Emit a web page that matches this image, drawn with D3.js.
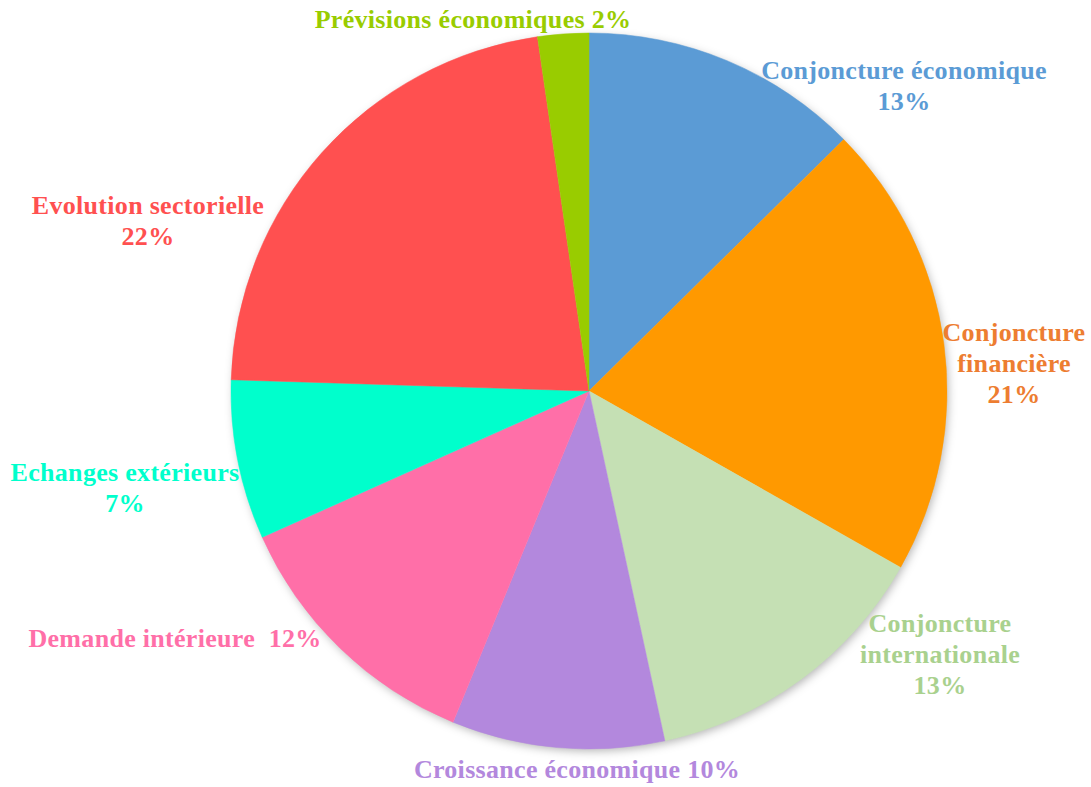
<!DOCTYPE html>
<html>
<head>
<meta charset="utf-8">
<script src="https://cdn.jsdelivr.net/npm/d3@7"></script>
<style>
  body { margin: 0; background: #fff; }
</style>
</head>
<body>
<svg id="chart" width="1091" height="787"></svg>
<script>
// slice data, clockwise from 12 o'clock
const categories = ["Conjoncture économique", "Conjoncture financière", "Conjoncture internationale",
  "Croissance économique", "Demande intérieure", "Echanges extérieurs", "Evolution sectorielle", "Prévisions économiques"];
const values = [12.6, 20.6, 13.4, 9.6, 12.1, 7.2, 22.2, 2.3];
// how each label is broken into lines (percent is appended)
const labelLines = [
  ["Conjoncture économique", "{p}"],
  ["Conjoncture", "financière", "{p}"],
  ["Conjoncture", "internationale", "{p}"],
  ["Croissance économique {p}"],
  ["Demande intérieure\u00a0 {p}"],
  ["Echanges extérieurs", "{p}"],
  ["Evolution sectorielle", "{p}"],
  ["Prévisions économiques {p}"]
];
const sliceColors = ["#5b9bd5", "#ff9900", "#c5e0b4", "#b388dd", "#ff6fa8", "#00ffcc", "#ff5050", "#99cc00"];
const labelColors = ["#5b9bd5", "#ed7d31", "#a9d18e", "#b388dd", "#ff6fa8", "#00ffcc", "#ff5050", "#99cc00"];
// label centre (x, first baseline) in page px
const labelPos = [[904, 79], [1014, 341], [940, 632], [577, 778], [175, 647], [125, 481], [148, 214], [473, 28]];

const svg = d3.select("#chart");
const cx = 589, cy = 391, radius = 358;

const defs = svg.append("defs");
const f = defs.append("filter").attr("id", "shadow")
  .attr("x", "-10%").attr("y", "-10%").attr("width", "120%").attr("height", "120%");
f.append("feDropShadow").attr("dx", 2).attr("dy", 3).attr("stdDeviation", 5)
  .attr("flood-color", "#000").attr("flood-opacity", 0.3);

const pie = d3.pie().sort(null).value(d => d);
const arc = d3.arc().innerRadius(0).outerRadius(radius);
const arcs = pie(values);

const g = svg.append("g").attr("transform", `translate(${cx},${cy})`);
g.append("circle").attr("r", radius - 1).attr("fill", "#fff").attr("filter", "url(#shadow)");
g.selectAll("path.slice").data(arcs).enter().append("path")
  .attr("class", "slice")
  .attr("d", arc)
  .attr("fill", (d, i) => sliceColors[i])
  .attr("stroke", (d, i) => sliceColors[i])
  .attr("stroke-width", 0.5);

const total = d3.sum(values);
const labels = svg.append("g")
  .attr("font-family", "'Liberation Serif', 'DejaVu Serif', serif")
  .attr("font-weight", "bold")
  .attr("font-size", 26)
  .attr("letter-spacing", "0.3px");
arcs.forEach((d, i) => {
  const pct = Math.round(d.value / total * 100) + "%";
  const t = labels.append("text")
    .attr("text-anchor", "middle")
    .attr("fill", labelColors[i]);
  labelLines[i].forEach((line, j) => {
    t.append("tspan")
      .attr("x", labelPos[i][0])
      .attr("y", labelPos[i][1] + j * 31)
      .text(line.replace("{p}", pct));
  });
});
</script>
</body>
</html>
